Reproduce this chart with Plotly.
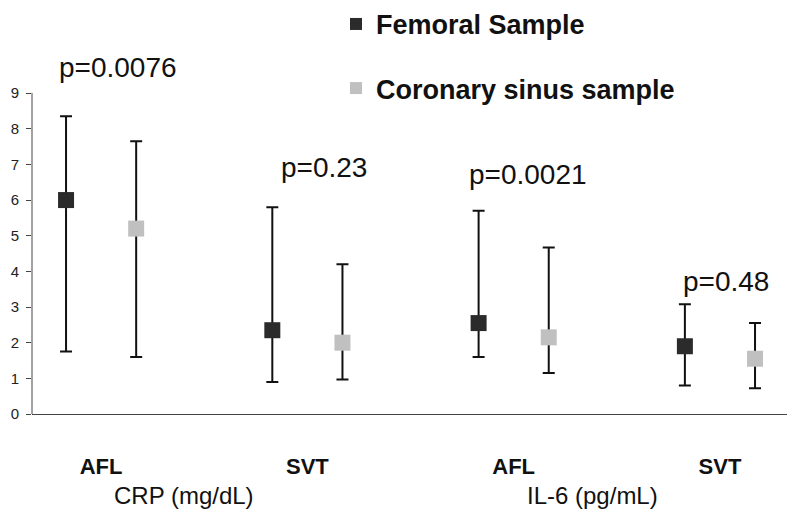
import plotly.graph_objects as go

# ---- data ----
groups = ["AFL", "SVT", "AFL", "SVT"]
group_pos = [0, 1, 2, 3]

fem_mean = [6.0, 2.35, 2.55, 1.9]
fem_upper = [8.35, 5.8, 5.7, 3.08]
fem_lower = [1.75, 0.9, 1.6, 0.8]

cor_mean = [5.2, 2.0, 2.15, 1.55]
cor_upper = [7.65, 4.2, 4.67, 2.55]
cor_lower = [1.6, 0.97, 1.15, 0.72]

p_labels = ["p=0.0076", "p=0.23", "p=0.0021", "p=0.48"]
p_label_y = [9.72, 6.9, 6.73, 3.72]
p_label_dx = [0.08, 0.08, 0.07, 0.03]

panel_titles = ["CRP (mg/dL)", "IL-6 (pg/mL)"]
panel_title_x = [0.4, 2.38]

y_ticks = list(range(0, 10))
y_axis_top = 9

# ---- style ----
offset = 0.17
FONT = "Arial, Liberation Sans, sans-serif"
fem_color = "#2b2b2b"
cor_color = "#c0c0c0"

fig = go.Figure()

def add_series(means, upper, lower, shift, color, name):
    xs = [g + shift for g in group_pos]
    fig.add_trace(go.Scatter(
        x=xs, y=means, mode="markers", name=name,
        legendgroup=name,
        marker=dict(symbol="square", size=16, color=color, line=dict(width=0)),
        error_y=dict(type="data", symmetric=False,
                     array=[u - m for u, m in zip(upper, means)],
                     arrayminus=[m - l for m, l in zip(means, lower)],
                     color="#111111", thickness=2, width=6),
    ))

add_series(fem_mean, fem_upper, fem_lower, -offset, fem_color, "Femoral Sample")
add_series(cor_mean, cor_upper, cor_lower, offset, cor_color, "Coronary sinus sample")

# p-value labels
for i, (lab, py, dx) in enumerate(zip(p_labels, p_label_y, p_label_dx)):
    fig.add_annotation(x=group_pos[i] + dx, y=py, text=lab, showarrow=False,
                       xref="x", yref="y", font=dict(family=FONT, size=28, color="#111"))

# panel titles
for t, tx in zip(panel_titles, panel_title_x):
    fig.add_annotation(x=tx, y=-0.276, xref="x", yref="paper", text=t, showarrow=False,
                       font=dict(family=FONT, size=24, color="#111"))

# y-axis line only from 0 to 9 (as in the reference)
fig.add_shape(type="line", xref="paper", yref="y", x0=0, x1=0, y0=0, y1=y_axis_top,
              line=dict(color="#444", width=1))

fig.update_layout(
    width=800, height=532,
    margin=dict(l=24, r=21, t=53, b=126, autoexpand=False),
    paper_bgcolor="white", plot_bgcolor="white",
    showlegend=True,
    legend=dict(x=0.41, y=0.909, xref="container", yref="container",
                xanchor="left", yanchor="middle",
                font=dict(family=FONT, size=27, color="#111", weight="bold"),
                traceorder="grouped", tracegroupgap=26,
                bgcolor="rgba(0,0,0,0)", itemsizing="constant"),
    xaxis=dict(range=[-0.335, 3.325], tickmode="array", tickvals=group_pos, ticktext=groups,
               showgrid=False, zeroline=False, showline=True, linecolor="#444", linewidth=1,
               ticks="", ticklabelstandoff=33,
               tickfont=dict(family=FONT, size=22, color="#111", weight="bold")),
    yaxis=dict(range=[0, 9.9], tickmode="array", tickvals=y_ticks,
               showgrid=False, zeroline=False, showline=False,
               ticks="outside", ticklen=5, tickcolor="#444", ticklabelstandoff=4,
               tickfont=dict(family=FONT, size=15, color="#222")),
)

fig.write_html("out.html")
